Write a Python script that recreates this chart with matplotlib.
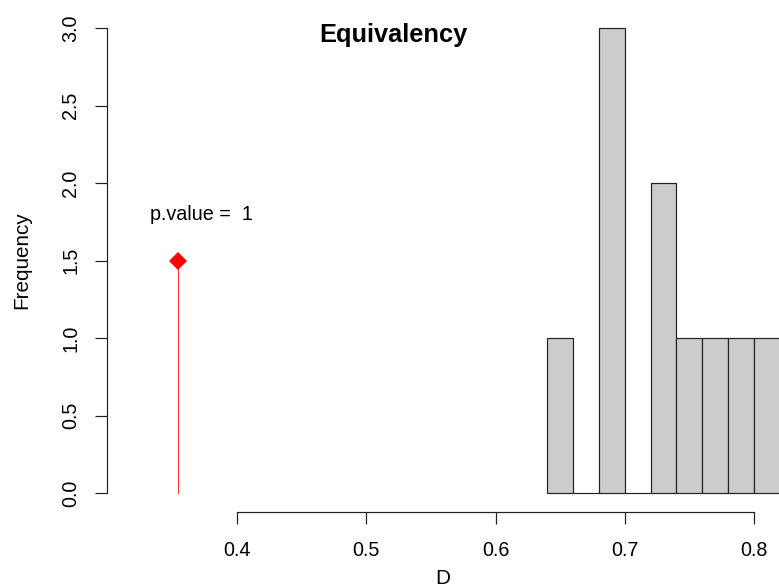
import matplotlib
matplotlib.use("Agg")
import matplotlib.pyplot as plt

plt.rcParams['font.family'] = ['Liberation Sans', 'DejaVu Sans']

# Data
bin_edges = [0.64, 0.66, 0.68, 0.70, 0.72, 0.74, 0.76, 0.78, 0.80, 0.82]
counts = [1, 0, 3, 0, 2, 1, 1, 1, 1]
observed_d = 0.354
observed_height = 1.5
p_value_label = "p.value =  1"
x_ticks = [0.4, 0.5, 0.6, 0.7, 0.8]
y_ticks = [0.0, 0.5, 1.0, 1.5, 2.0, 2.5, 3.0]
title = "Equivalency"
xlabel = "D"
ylabel = "Frequency"

W, H, DPI = 779, 588, 96
fig = plt.figure(figsize=(W / DPI, H / DPI), dpi=DPI)

left_px, right_px, top_px, bottom_px = 107, 779, 9.4, 511.6
ax = fig.add_axes([left_px / W, 1 - bottom_px / H,
                   (right_px - left_px) / W, (bottom_px - top_px) / H])

widths = [bin_edges[i + 1] - bin_edges[i] for i in range(len(counts))]
ax.bar(bin_edges[:-1], counts, width=widths, align='edge',
       color='#CCCCCC', edgecolor='#222222', linewidth=0.9, clip_on=True)

ax.plot([observed_d, observed_d], [0, observed_height], color='#ff3333', lw=0.8)
ax.plot([observed_d], [observed_height], marker='D', color='red', ms=9.5, mew=0)
ax.text(0.3725, 1.8, p_value_label, ha='center', va='center', fontsize=14.8)

ax.set_xlim(0.29942, 0.81934)
ax.set_ylim(-0.12, 3.12)

for s in ['top', 'right']:
    ax.spines[s].set_visible(False)
ax.spines['left'].set_bounds(0, 3)
ax.spines['bottom'].set_bounds(0.4, 0.8)
for s in ['left', 'bottom']:
    ax.spines[s].set_linewidth(0.9)
    ax.spines[s].set_color('#222222')

ax.set_xticks(x_ticks)
ax.set_xticklabels([f"{v:.1f}" for v in x_ticks])
ax.set_yticks(y_ticks)
ax.set_yticklabels([f"{v:.1f}" for v in y_ticks], rotation=90, va='center')
ax.tick_params(axis='both', length=9, width=0.9, labelsize=14.8,
               colors='#222222', labelcolor='black')
ax.tick_params(axis='x', pad=13)
ax.tick_params(axis='y', pad=11)

fig.text(22 / W, 1 - 260 / H, ylabel, rotation=90, ha='center', va='center', fontsize=15.5)
fig.text(443 / W, 1 - 578 / H, xlabel, ha='center', va='center', fontsize=15.5)
fig.text(393 / W, 1 - 35 / H, title, ha='center', va='center', fontsize=19, fontweight='bold')

fig.savefig("out.png", dpi=DPI)
